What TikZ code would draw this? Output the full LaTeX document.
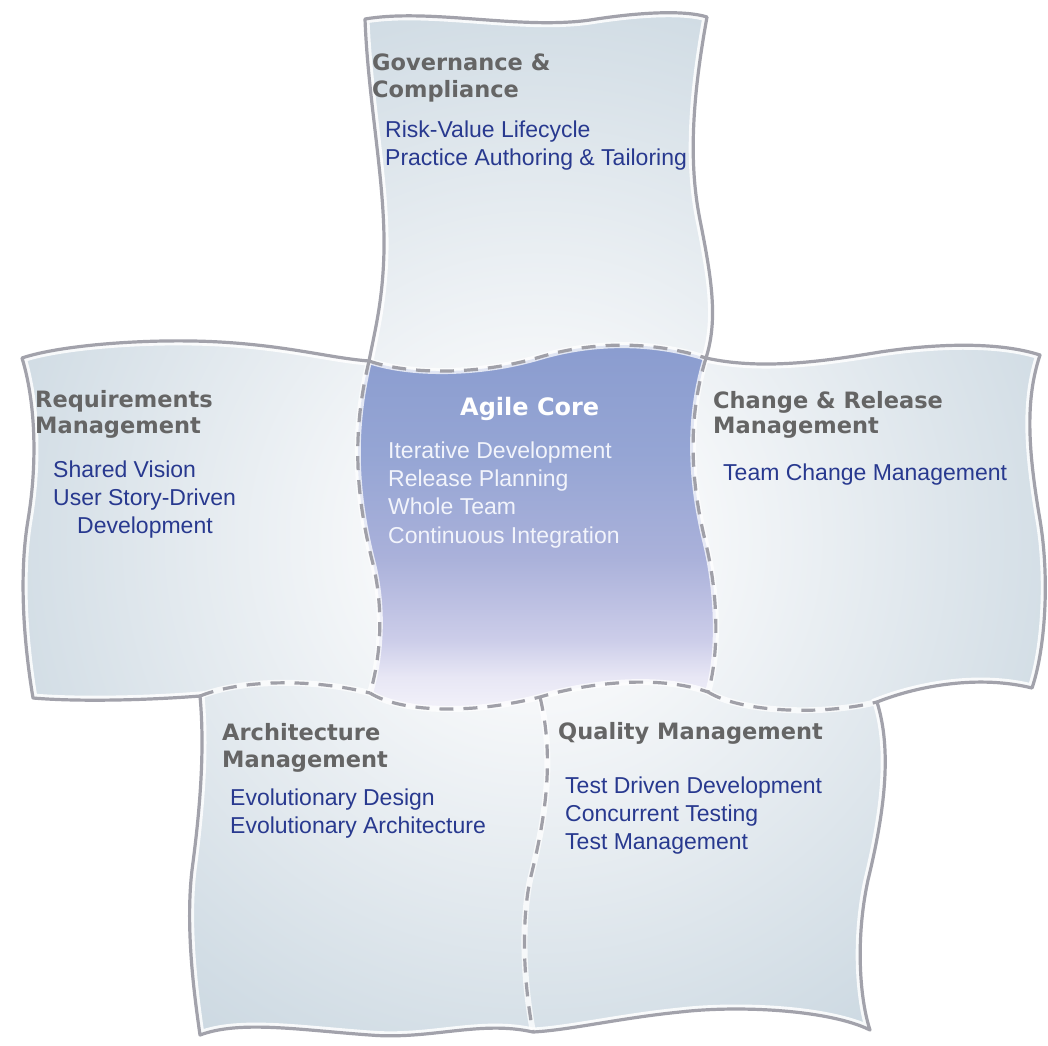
\documentclass[tikz,border=0pt]{standalone}
\usepackage{fontspec}
\setmainfont{Liberation Sans}
\newfontfamily\headfont{DejaVu Sans}
\definecolor{headgray}{HTML}{656565}
\definecolor{itemblue}{HTML}{28398F}
\definecolor{coretext}{HTML}{F2F4FB}
\definecolor{linegray}{HTML}{A2A2AB}
\definecolor{seamgray}{HTML}{A0A0A8}
\definecolor{glowB}{HTML}{F5F7F9}
\definecolor{glowC}{HTML}{D2DDE5}
\definecolor{glowD}{HTML}{C4D2DC}
\definecolor{coreA}{HTML}{F4F3FA}
\definecolor{coreB}{HTML}{E8E7F5}
\definecolor{coreC}{HTML}{CCCDE9}
\definecolor{coreD}{HTML}{AAB1DA}
\definecolor{coreE}{HTML}{95A5D4}
\definecolor{coreF}{HTML}{8A9CCF}
\pgfdeclareradialshading{tileglow}{\pgfpoint{0bp}{0bp}}{color(0bp)=(white); color(6bp)=(glowB); color(19bp)=(glowC); color(25bp)=(glowD); color(50bp)=(glowD)}
\pgfdeclareverticalshading{coreshade}{100bp}{color(0bp)=(coreA); color(25bp)=(coreA); color(30bp)=(coreB); color(35bp)=(coreC); color(46bp)=(coreD); color(60bp)=(coreE); color(75bp)=(coreF); color(100bp)=(coreF)}
\tikzset{
  head/.style={anchor=base west, inner sep=0pt, font=\headfont\bfseries\fontsize{22.5}{26}\selectfont, text=headgray},
  item/.style={anchor=base west, inner sep=0pt, font=\fontsize{23}{28}\selectfont, text=itemblue},
  coreitem/.style={item, text=coretext},
  corehead/.style={anchor=base west, inner sep=0pt, font=\headfont\bfseries\fontsize{24}{28}\selectfont, text=white},
  outline/.style={draw=linegray, line width=3.2pt, line join=round},
  seam/.style={draw=seamgray, line width=3.2pt, dash pattern=on 14pt off 10pt},
  seamglow/.style={draw=white, line width=6pt, opacity=0.75},
}
\begin{document}
\begin{tikzpicture}[x=1pt,y=-1pt]
\useasboundingbox (0,0) rectangle (1048,1045);
\fill[white] (0,0) rectangle (1048,1045);
% junctions
\coordinate (G1) at (365,19);
\coordinate (G2) at (707,17);
\coordinate (TL) at (369,361);
\coordinate (TR) at (706,358);
\coordinate (BL) at (370,693);
\coordinate (BR) at (708,692);
\coordinate (D1) at (540,697);
\coordinate (R1) at (22,358);
\coordinate (R2) at (33,698);
\coordinate (A1) at (200,696);
\coordinate (A2) at (200,1035);
\coordinate (Q1) at (533,1032);
\coordinate (Q2) at (870,1030);
\coordinate (C1) at (877,702);
\coordinate (C2) at (1032,688);
\coordinate (C3) at (1040,355);
\def\silhouette{(G1) .. controls (430,8) and (520,30) .. (590,20) .. controls (640,12) and (685,10) .. (G2)
 .. controls (690,110) and (690,170) .. (700,220) .. controls (712,280) and (718,320) .. (TR)
 .. controls (760,370) and (820,362) .. (880,352) .. controls (940,343) and (1000,342) .. (C3)
 .. controls (1025,400) and (1028,450) .. (1040,520) .. controls (1050,580) and (1045,650) .. (C2)
 .. controls (980,675) and (920,685) .. (C1)
 .. controls (892,750) and (885,810) .. (868,880) .. controls (855,940) and (860,1000) .. (Q2)
 .. controls (830,1010) and (740,1005) .. (680,1012) .. controls (620,1018) and (570,1030) .. (Q1)
 .. controls (480,1020) and (430,1040) .. (370,1035) .. controls (300,1030) and (240,1020) .. (A2)
 .. controls (195,1000) and (185,930) .. (192,870) .. controls (200,810) and (205,750) .. (A1)
 .. controls (150,700) and (80,702) .. (R2)
 .. controls (25,650) and (18,580) .. (28,520) .. controls (38,460) and (35,400) .. (R1)
 .. controls (60,345) and (150,338) .. (220,342) .. controls (290,346) and (330,358) .. (TL)
 .. controls (375,330) and (383,300) .. (384,250) .. controls (385,180) and (368,100) .. (G1) -- cycle}
\def\corepath{(TL) .. controls (410,375) and (480,375) .. (540,357) .. controls (590,342) and (650,340) .. (TR)
 .. controls (690,410) and (688,470) .. (705,540) .. controls (720,600) and (718,660) .. (BR)
 .. controls (660,675) and (590,682) .. (D1) .. controls (470,715) and (400,712) .. (BL)
 .. controls (380,660) and (385,610) .. (372,560) .. controls (352,480) and (355,420) .. (TL) -- cycle}
% tiles
\begin{scope}
  \clip \silhouette;
  \shade[shading=tileglow] (535,540) circle[radius=700];
  \draw[white, line width=9pt, opacity=0.85] \silhouette;
\end{scope}
% agile core
\shade[shading=coreshade] \corepath;
% seams
\foreach \s in {seamglow, seam}{
  \draw[\s] (TL) .. controls (410,375) and (480,375) .. (540,357) .. controls (590,342) and (650,340) .. (TR);
  \draw[\s] (TL) .. controls (355,420) and (352,480) .. (372,560) .. controls (385,610) and (380,660) .. (BL);
  \draw[\s] (TR) .. controls (690,410) and (688,470) .. (705,540) .. controls (720,600) and (718,660) .. (BR);
  \draw[\s] (BL) .. controls (400,712) and (470,715) .. (D1) .. controls (590,682) and (660,675) .. (BR);
  \draw[\s] (A1) .. controls (240,680) and (310,678) .. (BL);
  \draw[\s] (BR) .. controls (740,712) and (820,716) .. (C1);
  \draw[\s] (D1) .. controls (555,760) and (545,820) .. (530,880) .. controls (520,930) and (525,990) .. (Q1);
}
% outline
\draw[outline] \silhouette;
% texts
\node[head] (gov1) at (372,70) {Governance \&};
\node[head] (gov2) at (372,97) {Compliance};
\node[item] (gov3) at (385,137) {Risk-Value Lifecycle};
\node[item] (gov4) at (385,165) {Practice Authoring \& Tailoring};
\node[head] (req1) at (35,407) {Requirements};
\node[head] (req2) at (35,433) {Management};
\node[item] (req3) at (53,477) {Shared Vision};
\node[item] (req4) at (53,505) {User Story-Driven};
\node[item] (req5) at (77,533) {Development};
\node[corehead] (core1) at (460,415) {Agile Core};
\node[coreitem] (core2) at (388,458) {Iterative Development};
\node[coreitem] (core3) at (388,486) {Release Planning};
\node[coreitem] (core4) at (388,514) {Whole Team};
\node[coreitem] (core5) at (388,543) {Continuous Integration};
\node[head] (chg1) at (713,408) {Change \& Release};
\node[head] (chg2) at (713,433) {Management};
\node[item] (chg3) at (723,480) {Team Change Management};
\node[head] (arc1) at (222,740) {Architecture};
\node[head] (arc2) at (222,767) {Management};
\node[item] (arc3) at (230,805) {Evolutionary Design};
\node[item] (arc4) at (230,833) {Evolutionary Architecture};
\node[head] (qua1) at (558,739) {Quality Management};
\node[item] (qua2) at (565,793) {Test Driven Development};
\node[item] (qua3) at (565,821) {Concurrent Testing};
\node[item] (qua4) at (565,849) {Test Management};
\end{tikzpicture}
\end{document}
